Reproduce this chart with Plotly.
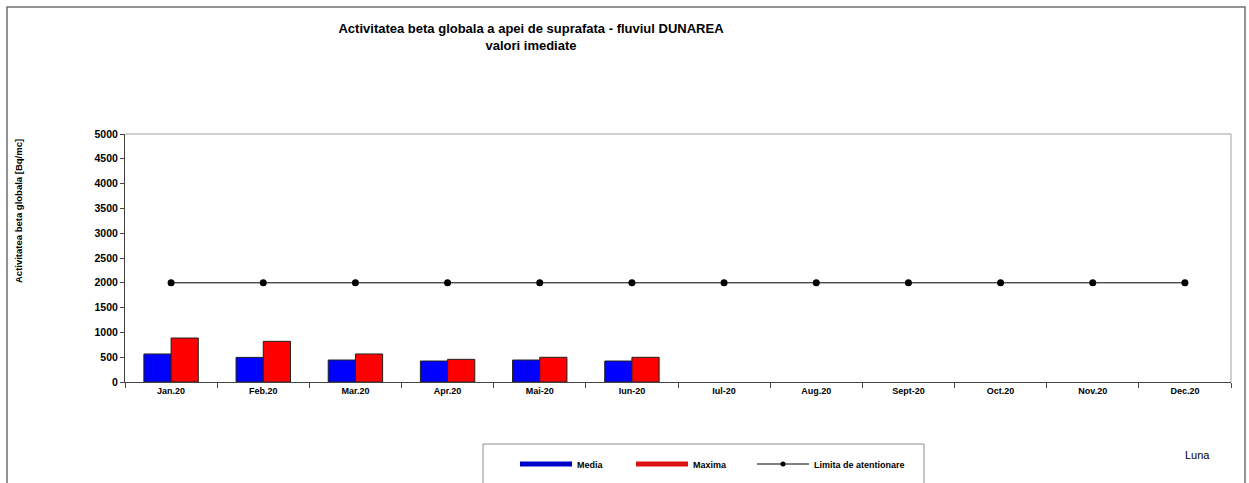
import plotly.graph_objects as go

months = ["Jan.20", "Feb.20", "Mar.20", "Apr.20", "Mai-20", "Iun-20",
          "Iul-20", "Aug.20", "Sept-20", "Oct.20", "Nov.20", "Dec.20"]
media = [565, 496, 443, 423, 443, 423, None, None, None, None, None, None]
maxima = [887, 820, 565, 457, 498, 498, None, None, None, None, None, None]
limita = [2000] * 12

W, H = 1249, 483
L, R, T, B = 125, 18, 134, 101
PW, PH = W - L - R, H - T - B

font = "Liberation Sans, Arial, sans-serif"


def px_x(x):
    return (x - L) / PW


def px_y(y):
    return (H - B - y) / PH


fig = go.Figure()
fig.add_trace(go.Bar(
    x=months, y=media, name="Media", showlegend=False,
    marker=dict(color="#0000ff", line=dict(color="#202020", width=1)),
))
fig.add_trace(go.Bar(
    x=months, y=maxima, name="Maxima", showlegend=False,
    marker=dict(color="#ff0000", line=dict(color="#202020", width=1)),
))
fig.add_trace(go.Scatter(
    x=months, y=limita, mode="lines+markers", showlegend=False,
    line=dict(color="#000000", width=1),
    marker=dict(color="#000000", size=7),
))

# legend entries drawn as thick lines, like the original (one legend each)
fig.add_trace(go.Scatter(x=[None], y=[None], mode="lines", name="<b>Media</b>",
                         line=dict(color="#0000cc", width=5), legend="legend"))
fig.add_trace(go.Scatter(x=[None], y=[None], mode="lines", name="<b>Maxima</b>",
                         line=dict(color="#dd1111", width=5), legend="legend2"))
fig.add_trace(go.Scatter(x=[None], y=[None], mode="lines+markers",
                         name="<b>Limita de atentionare</b>",
                         line=dict(color="#000000", width=1),
                         marker=dict(color="#000000", size=5), legend="legend3"))


def leg(x):
    return dict(
        orientation="h", x=px_x(x), xanchor="left", y=px_y(464),
        yanchor="middle", xref="paper",
        borderwidth=0, bgcolor="rgba(0,0,0,0)",
        font=dict(size=9, family=font, color="#000000"),
        itemwidth=52,
    )


fig.update_layout(
    width=W, height=H,
    margin=dict(l=L, r=R, t=T, b=B, autoexpand=False),
    paper_bgcolor="white", plot_bgcolor="white",
    barmode="group", bargap=0.41, bargroupgap=0,
    font=dict(family=font, color="#000000"),
    title=dict(
        text="<b>Activitatea beta globala a apei de suprafata - fluviul DUNAREA<br>valori imediate</b>",
        x=531 / W, xanchor="center", xref="container",
        y=1 - 33 / H, yanchor="top", yref="container",
        font=dict(size=13, family=font, color="#000000"),
    ),
    legend=leg(515),
    legend2=leg(631),
    legend3=leg(752),
    xaxis=dict(
        type="category", tickson="boundaries",
        ticks="outside", ticklen=5, tickcolor="#444",
        showline=True, linecolor="#444", linewidth=1, mirror=False,
        showgrid=False,
        tickfont=dict(size=9, family=font, color="#000000"),
        tickprefix="<b>", ticksuffix="</b>",
        range=[-0.5, 11.5],
    ),
    yaxis=dict(
        range=[0, 5000], dtick=500,
        ticks="outside", ticklen=4, tickcolor="#444",
        showline=True, linecolor="#444", linewidth=1,
        showgrid=False, zeroline=False,
        tickfont=dict(size=10.5, family=font, color="#000000"),
        tickprefix="<b>", ticksuffix="</b>",
    ),
    shapes=[
        # plot area frame top / right
        dict(type="line", xref="paper", yref="paper", x0=0, x1=1, y0=1, y1=1,
             line=dict(color="#a0a0a0", width=1)),
        dict(type="line", xref="paper", yref="paper", x0=1, x1=1, y0=0, y1=1,
             line=dict(color="#a0a0a0", width=1)),
        # outer chart frame
        dict(type="rect", xref="paper", yref="paper",
             x0=px_x(7), x1=px_x(1245), y0=px_y(H + 20), y1=px_y(7),
             line=dict(color="#707070", width=1.5), layer="below"),
        # legend box
        dict(type="rect", xref="paper", yref="paper",
             x0=px_x(483), x1=px_x(924), y0=px_y(H + 10), y1=px_y(444),
             line=dict(color="#8c8c8c", width=1), layer="below"),
    ],
    annotations=[
        dict(text="<b>Activitatea beta globala [Bq/mc]</b>", textangle=-90,
             xref="paper", yref="paper", x=px_x(18), y=px_y(211),
             xanchor="center", yanchor="middle", showarrow=False,
             font=dict(size=9.5, family=font, color="#000000")),
        dict(text="Luna", xref="paper", yref="paper",
             x=px_x(1197), y=px_y(455),
             xanchor="center", yanchor="middle", showarrow=False,
             font=dict(size=11, family=font, color="#000000")),
    ],
)

fig.write_html("out.html", config={"displayModeBar": False},
               post_script="document.body.style.margin='0';")
